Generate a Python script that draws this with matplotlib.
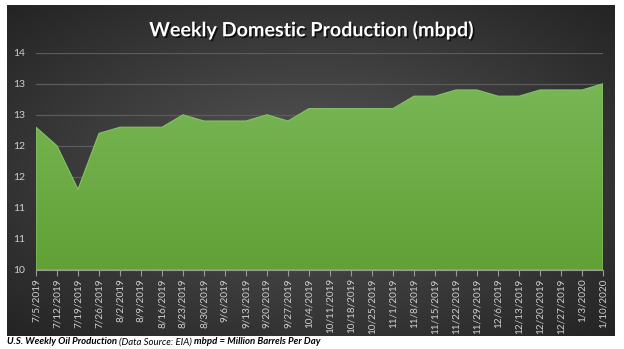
import math
import numpy as np
import matplotlib.pyplot as plt
import matplotlib.patheffects as pe
from matplotlib.ticker import FuncFormatter

# weekly U.S. crude output, million barrels per day
weeks = ['7/5/2019', '7/12/2019', '7/19/2019', '7/26/2019', '8/2/2019', '8/9/2019',
         '8/16/2019', '8/23/2019', '8/30/2019', '9/6/2019', '9/13/2019', '9/20/2019',
         '9/27/2019', '10/4/2019', '10/11/2019', '10/18/2019', '10/25/2019', '11/1/2019',
         '11/8/2019', '11/15/2019', '11/22/2019', '11/29/2019', '12/6/2019', '12/13/2019',
         '12/20/2019', '12/27/2019', '1/3/2020', '1/10/2020']
production = [12.3, 12.0, 11.3, 12.2, 12.3, 12.3, 12.3, 12.5, 12.4, 12.4, 12.4, 12.5,
              12.4, 12.6, 12.6, 12.6, 12.6, 12.6, 12.8, 12.8, 12.9, 12.9, 12.8, 12.8,
              12.9, 12.9, 12.9, 13.0]
y_ticks = [10, 10.5, 11, 11.5, 12, 12.5, 13, 13.5]

W, H = 624, 349
fig = plt.figure(figsize=(W / 100, H / 100), dpi=100, facecolor='white')

# dark panel with a soft radial glow
bg = fig.add_axes([7 / W, (H - 336) / H, 608 / W, 331 / H], zorder=0)
gx, gy = np.meshgrid(np.linspace(-1, 1, 300), np.linspace(-1, 1, 200))
r = np.clip(np.sqrt(gx ** 2 + gy ** 2) / math.sqrt(2), 0, 1)
shade = 0.34 - 0.2 * r
bg.imshow(np.dstack([shade, shade, shade]), aspect='auto', extent=[0, 1, 0, 1])
bg.set_axis_off()

ax = fig.add_axes([36 / W, (H - 270) / H, 567 / W, 217.3 / H], zorder=1)
ax.set_facecolor('none')
x = np.arange(len(weeks))

poly = ax.fill_between(x, production, 10, facecolor='none', edgecolor='#86c265',
                       linewidth=0.8, zorder=3)
grad = np.linspace(0, 1, 256).reshape(-1, 1)
bottom = np.array([0.38, 0.63, 0.21])
top = np.array([0.49, 0.73, 0.36])
colors = bottom + (top - bottom) * grad[..., None]
im = ax.imshow(colors, aspect='auto', origin='lower', extent=[0, len(weeks) - 1, 10, 13.5],
               zorder=2)
im.set_clip_path(poly.get_paths()[0], transform=ax.transData)

ax.set_xlim(0, len(weeks) - 1)
ax.set_ylim(10, 13.5)
ax.set_yticks(y_ticks)
ax.yaxis.set_major_formatter(FuncFormatter(lambda v, p: str(int(math.floor(v + 0.5)))))
ax.set_xticks(x)
ax.set_xticklabels(weeks, rotation=90)
ax.grid(axis='y', color='#5c5c5c', linewidth=0.9)
ax.set_axisbelow(True)
for s in ['top', 'right', 'left']:
    ax.spines[s].set_visible(False)
ax.spines['bottom'].set_color('#9a9a9a')
ax.spines['bottom'].set_zorder(4)
ax.tick_params(axis='y', length=0, pad=8, labelsize=7.5, labelcolor='#d0d0d0')
ax.tick_params(axis='x', length=4, width=0.8, color='#9a9a9a', pad=2,
               labelsize=7.2, labelcolor='#cfcfcf')
for lbl in ax.get_xticklabels() + ax.get_yticklabels():
    lbl.set_fontfamily('Lato')

fig.text(0.5, 1 - 30 / H, 'Weekly Domestic Production (mbpd)', ha='center', va='center',
         color='white', fontsize=14.2, fontweight='bold', family='Lato',
         path_effects=[pe.SimplePatchShadow(offset=(1.2, -1.2), shadow_rgbFace='black', alpha=0.7),
                       pe.Normal()])

# footer caption in three styles, laid out one after another
parts = [('U.S. Weekly Oil Production ', 'bold'),
         ('(Data Source: EIA) ', 'normal'),
         ('mbpd = Million Barrels Per Day', 'bold')]
renderer = fig.canvas.get_renderer()
xpos = 7
for txt, wt in parts:
    t = fig.text(xpos / W, 1 - 342 / H, txt, ha='left', va='center', fontsize=6.9,
                 fontweight=wt, fontstyle='italic', family='Lato', color='black')
    xpos += t.get_window_extent(renderer).width

fig.savefig('out.png', dpi=100, facecolor='white')
